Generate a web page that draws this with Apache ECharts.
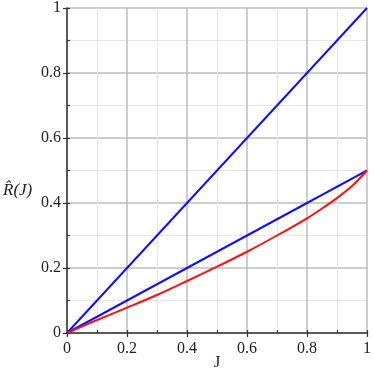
<!DOCTYPE html>
<html>
<head>
<meta charset="utf-8">
<script src="https://cdn.jsdelivr.net/npm/echarts@6/dist/echarts.min.js"></script>
<style>
  html, body { margin: 0; padding: 0; background: #fff; }
  #main { width: 374px; height: 374px; }
</style>
</head>
<body>
<div id="main"></div>
<script>
// x values (J) and series
var jValues = [0, 0.1, 0.2, 0.3, 0.4, 0.5, 0.6, 0.7, 0.8, 0.85, 0.9, 0.95, 1];
var upperLine = [0, 0.1, 0.2, 0.3, 0.4, 0.5, 0.6, 0.7, 0.8, 0.85, 0.9, 0.95, 1];
var halfLine = [0, 0.05, 0.1, 0.15, 0.2, 0.25, 0.3, 0.35, 0.4, 0.425, 0.45, 0.475, 0.5];
var redCurve = [0, 0.04, 0.078, 0.117, 0.16, 0.204, 0.25, 0.3, 0.353, 0.383, 0.415, 0.452, 0.5];
var tickLabels = { 0: '0', 0.2: '0.2', 0.4: '0.4', 0.6: '0.6', 0.8: '0.8', 1: '1' };

var FONT = 'Liberation Serif';

function pairs(ys) {
  return jValues.map(function (x, i) { return [x, ys[i]]; });
}
function fmt(v) {
  var k = Math.round(v * 10) / 10;
  return tickLabels[k] !== undefined ? tickLabels[k] : '';
}

// 主坐标轴（刻度朝外）
function mainAxis(margin) {
  return {
    type: 'value',
    min: 0,
    max: 1,
    interval: 0.2,
    axisLine: { show: true, onZero: false, lineStyle: { color: '#333', width: 1.5 } },
    axisTick: { show: true, length: 4, lineStyle: { color: '#333', width: 1.2 } },
    axisLabel: { color: '#222', fontFamily: FONT, fontSize: 16, margin: margin, formatter: fmt },
    splitLine: { show: true, lineStyle: { color: '#bdbdbd', width: 1.5 } },
    minorTick: { show: false, splitNumber: 2 },
    minorSplitLine: { show: true, lineStyle: { color: '#e6e6e6', width: 1 } }
  };
}
// 次要刻度（朝内）
function minorAxis(pos) {
  return {
    type: 'value',
    min: 0,
    max: 1,
    interval: 0.1,
    position: pos,
    offset: 0,
    axisLine: { show: false },
    axisTick: { show: true, inside: true, length: 3, lineStyle: { color: '#333', width: 1.2 } },
    axisLabel: { show: false },
    splitLine: { show: false }
  };
}

var myChart = echarts.init(document.getElementById('main'));
myChart.setOption({
  animation: false,
  backgroundColor: '#fff',
  grid: { left: 67, right: 3, top: 5, bottom: 41, containLabel: false },
  xAxis: [mainAxis(8), minorAxis('bottom')],
  yAxis: [mainAxis(6), minorAxis('left')],
  graphic: [
    {
      type: 'text',
      left: 3,
      top: 182,
      style: { text: 'R\u0302(J)', fontFamily: FONT, fontStyle: 'italic', fontSize: 17, fill: '#222' }
    },
    {
      type: 'text',
      left: 214,
      top: 355,
      style: { text: 'J', fontFamily: FONT, fontSize: 16, fill: '#222' }
    }
  ],
  series: [
    {
      type: 'line',
      data: pairs(upperLine),
      showSymbol: false,
      lineStyle: { color: '#1010ff', width: 2 },
      z: 3
    },
    {
      type: 'line',
      data: pairs(halfLine),
      showSymbol: false,
      lineStyle: { color: '#1010ff', width: 2 },
      z: 3
    },
    {
      type: 'line',
      data: pairs(redCurve),
      showSymbol: false,
      smooth: 0.3,
      lineStyle: { color: '#ff1010', width: 2 },
      z: 3
    }
  ]
});
</script>
</body>
</html>
